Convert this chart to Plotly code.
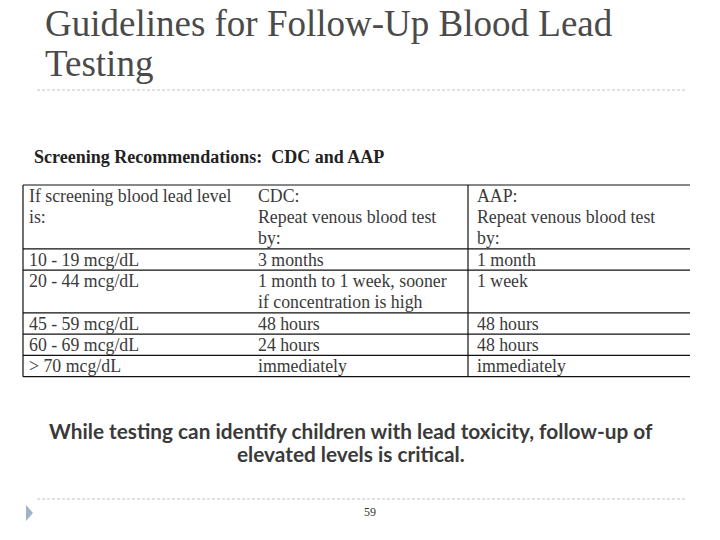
import plotly.graph_objects as go

title_lines = ["Guidelines for Follow-Up Blood Lead", "Testing"]
table_caption = "Screening Recommendations:  CDC and AAP"
level = ["If screening blood lead level<br>is:", "10 - 19 mcg/dL", "20 - 44 mcg/dL",
         "45 - 59 mcg/dL", "60 - 69 mcg/dL", "> 70 mcg/dL"]
cdc = ["CDC:<br>Repeat venous blood test<br>by:", "3 months",
       "1 month to 1 week, sooner<br>if concentration is high",
       "48 hours", "24 hours", "immediately"]
aap = ["AAP:<br>Repeat venous blood test<br>by:", "1 month", "1 week",
       "48 hours", "48 hours", "immediately"]
footer_text = ["While testing can identify children with lead toxicity, follow-up of",
               "elevated levels is critical."]
page_number = "59"

fig = go.Figure()
fig.add_trace(go.Scatter(x=[0, 720], y=[0, 540], mode="markers",
                         marker=dict(opacity=0), hoverinfo="skip", showlegend=False))

ann = []
shapes = []

# Title
for i, t in enumerate(title_lines):
    ann.append(dict(x=43, y=23 + 40 * i, text=t, xanchor="left", yanchor="middle",
                    showarrow=False,
                    font=dict(family="Liberation Serif", size=37, color="#4a4a4a")))
# dashed separators
for yy in [90, 499]:
    shapes.append(dict(type="line", x0=37, x1=686, y0=yy, y1=yy,
                       line=dict(color="#c4c4c4", width=1, dash="3px,2px")))

# caption
ann.append(dict(x=32, y=157, text="<b>" + table_caption + "</b>", xanchor="left",
                yanchor="middle", showarrow=False,
                font=dict(family="Liberation Serif", size=18, color="#222222")))

# table
LH = 21.3
top = 185
col_x = [27, 256, 475]
left, mid, right = 23, 468, 690
y = top
line_style = dict(color="#111111", width=1.2)
shapes.append(dict(type="line", x0=left, x1=right, y0=y, y1=y, line=line_style))
for r in range(len(level)):
    cells = [level[r], cdc[r], aap[r]]
    nl = max(c.count("<br>") + 1 for c in cells)
    for cx, c in zip(col_x, cells):
        for k, line in enumerate(c.split("<br>")):
            ann.append(dict(x=cx, y=y + 10.8 + LH * k, text=line, xanchor="left",
                            yanchor="middle", showarrow=False,
                            font=dict(family="Liberation Serif", size=17.8,
                                      color="#3a3a3a")))
    y += LH * nl
    shapes.append(dict(type="line", x0=left, x1=right, y0=y, y1=y, line=line_style))
bottom = y
shapes.append(dict(type="line", x0=left, x1=left, y0=top, y1=bottom, line=line_style))
shapes.append(dict(type="line", x0=mid, x1=mid, y0=top, y1=bottom, line=line_style))

# footer text
for i, t in enumerate(footer_text):
    ann.append(dict(x=351, y=430 + 23 * i, text="<b>" + t + "</b>", xanchor="center",
                    yanchor="middle", showarrow=False,
                    font=dict(family="Lato", size=20.8, color="#3a3a3a")))

ann.append(dict(x=370, y=512, text=page_number, xanchor="center", yanchor="middle",
                showarrow=False, font=dict(family="Liberation Serif", size=12,
                                           color="#333333")))
# triangle bullet
shapes.append(dict(type="path", path="M 26 505 L 33 513 L 26 521 Z",
                   fillcolor="#9fb3c8", line=dict(width=0)))

fig.update_layout(
    width=720, height=540, margin=dict(l=0, r=0, t=0, b=0),
    paper_bgcolor="white", plot_bgcolor="white",
    xaxis=dict(range=[0, 720], visible=False, fixedrange=True),
    yaxis=dict(range=[540, 0], visible=False, fixedrange=True),
    annotations=ann, shapes=shapes, showlegend=False, hovermode=False,
)
fig.write_html("out.html", config=dict(displayModeBar=False),
               post_script="document.body.style.margin='0';")
